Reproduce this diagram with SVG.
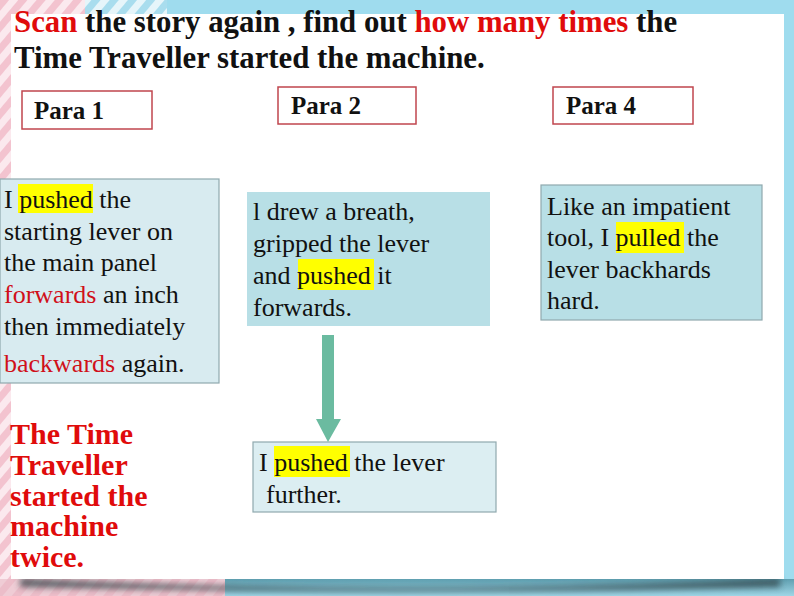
<svg xmlns="http://www.w3.org/2000/svg" width="794" height="596" viewBox="0 0 794 596">
<defs>
<pattern id="pinkStripes" patternUnits="userSpaceOnUse" width="14" height="14" patternTransform="rotate(40)">
<rect width="14" height="14" fill="#fbe9ee"/>
<rect width="7" height="14" fill="#f3c3cf"/>
</pattern>
<pattern id="blueStripes" patternUnits="userSpaceOnUse" width="14" height="14" patternTransform="rotate(40)">
<rect width="14" height="14" fill="#e6f5fa"/>
<rect width="7" height="14" fill="#a9ddee"/>
</pattern>
<linearGradient id="bottomBand" x1="0" y1="0" x2="0" y2="1">
<stop offset="0" stop-color="#5f9fb0"/>
<stop offset="1" stop-color="#9fd6e6"/>
</linearGradient>
<filter id="blur" x="-10%" y="-200%" width="120%" height="500%">
<feGaussianBlur stdDeviation="3"/>
</filter>
<style>
.body{font-family:"Liberation Serif","Times New Roman",serif;font-size:26px;fill:#111}
.red{fill:#d0101a}
.title{font-family:"Liberation Serif","Times New Roman",serif;font-size:30.8px;font-weight:bold;fill:#111}
.tred{fill:#e00b0b}
.para{font-family:"Liberation Serif","Times New Roman",serif;font-size:25px;font-weight:bold;fill:#111}
.pbox{fill:#ffffff;stroke:#c0464e;stroke-width:1.5}
.tbox{stroke:#8fa9ae;stroke-width:1.2}
.hl{fill:#ffff00}
.concl{font-family:"Liberation Serif","Times New Roman",serif;font-size:30px;font-weight:bold;fill:#e00b0b}
</style>
</defs>

<!-- background frame -->
<rect x="0" y="0" width="794" height="596" fill="#9fdcee"/>
<polygon points="0,0 90,0 90,14 11,14 11,579 225,579 225,596 0,596" fill="url(#pinkStripes)"/>
<rect x="85" y="0" width="82" height="14" fill="url(#blueStripes)"/>
<rect x="225" y="579" width="569" height="17" fill="url(#bottomBand)"/>
<rect x="0" y="579" width="225" height="17" fill="#e8b9c4" opacity="0.6"/>
<path d="M20,578 Q400,598 780,578 L780,587 Q400,596 20,587 Z" fill="#2e3f45" opacity="0.75" filter="url(#blur)"/>
<rect x="11" y="14" width="773" height="565" fill="#ffffff"/>

<!-- title -->
<g id="title">
<text class="title" x="14" y="32"><tspan class="tred">Scan</tspan> the story again , find out <tspan class="tred">how many times</tspan> the</text>
<text class="title" x="14" y="68">Time Traveller started the machine.</text>
</g>

<!-- paragraph labels -->
<g id="para1">
<rect class="pbox" x="22" y="91" width="130" height="38"/>
<text class="para" x="34" y="119">Para 1</text>
</g>
<g id="para2">
<rect class="pbox" x="278" y="87" width="138" height="37"/>
<text class="para" x="291" y="114">Para 2</text>
</g>
<g id="para4">
<rect class="pbox" x="553" y="87" width="140" height="37"/>
<text class="para" x="566" y="114">Para 4</text>
</g>

<!-- text boxes -->
<g id="box1">
<rect class="tbox" x="0" y="179" width="219" height="204" fill="#d8ebf0"/>
<rect class="hl" x="18" y="184" width="75" height="29"/>
<text class="body" x="4" y="208">I pushed the</text>
<text class="body" x="4" y="240">starting lever on</text>
<text class="body" x="4" y="271">the main panel</text>
<text class="body" x="4" y="303"><tspan class="red">forwards</tspan> an inch</text>
<text class="body" x="4" y="335">then immediately</text>
<text class="body" x="4" y="372"><tspan class="red">backwards</tspan> again.</text>
</g>

<g id="box2">
<rect x="247" y="192" width="243" height="134" fill="#b8dfe6"/>
<rect class="hl" x="298" y="259" width="76" height="31"/>
<text class="body" x="253" y="220">l drew a breath,</text>
<text class="body" x="253" y="252">gripped the lever</text>
<text class="body" x="253" y="284">and pushed it</text>
<text class="body" x="253" y="316">forwards.</text>
</g>

<g id="box4">
<rect class="tbox" x="541" y="185" width="221" height="135" fill="#b8dfe6"/>
<rect class="hl" x="616" y="222" width="68" height="31"/>
<text class="body" x="547" y="215">Like an impatient</text>
<text class="body" x="547" y="246">tool, I pulled the</text>
<text class="body" x="547" y="278">lever backhards</text>
<text class="body" x="547" y="309">hard.</text>
</g>

<g id="box5">
<rect class="tbox" x="253" y="442" width="243" height="70" fill="#dceef2"/>
<rect class="hl" x="274" y="446" width="76" height="31"/>
<text class="body" x="259" y="471">I pushed the lever</text>
<text class="body" x="266" y="503">further.</text>
</g>

<g id="conclusion">
<text class="concl" x="10" y="444">The Time</text>
<text class="concl" x="10" y="475">Traveller</text>
<text class="concl" x="10" y="506">started the</text>
<text class="concl" x="10" y="536">machine</text>
<text class="concl" x="10" y="567">twice.</text>
</g>

<!-- connectors -->
<g id="connectors">
<polygon points="322,335 334,335 334,419 341,419 328,442 316,419 322,419" fill="#6bbba0"/>
</g>
</svg>
